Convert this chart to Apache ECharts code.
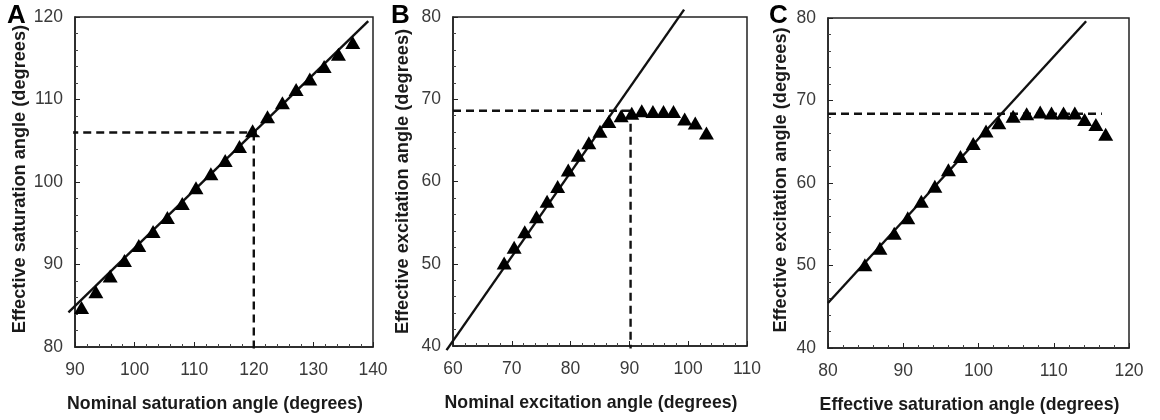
<!DOCTYPE html>
<html>
<head>
<meta charset="utf-8">
<script src="https://cdn.jsdelivr.net/npm/echarts@6/dist/echarts.min.js"></script>
<style>html,body{margin:0;padding:0;background:#fff}#c{width:1160px;height:420px}</style>
</head>
<body>
<div id="c"></div>
<script>
// ---- Panel A: nominal vs effective saturation angle ----
const panelA_x = [91.1, 93.5, 95.9, 98.3, 100.7, 103.1, 105.5, 108.0, 110.3, 112.8, 115.2, 117.6, 119.8, 122.3, 124.8, 127.1, 129.4, 131.8, 134.2, 136.6];
const panelA_y = [84.8, 86.7, 88.6, 90.5, 92.3, 94.0, 95.7, 97.4, 99.3, 101.0, 102.6, 104.3, 106.2, 107.9, 109.6, 111.2, 112.5, 114.0, 115.5, 116.9];
const fitA = [[88.9, 84.2], [139.2, 119.5]];
const dashA_h = [[89.2, 106], [121.0, 106]];
const dashA_v = [[120, 106], [120, 79.7]];
const ringsA = [[89.2, 106], [121.0, 106]];

// ---- Panel B: nominal vs effective excitation angle ----
const panelB_x = [68.7, 70.4, 72.2, 74.2, 76.0, 77.8, 79.6, 81.3, 83.1, 85.0, 86.5, 88.6, 90.4, 92.1, 94.0, 95.8, 97.5, 99.4, 101.2, 103.1];
const panelB_y = [50.1, 52.0, 53.9, 55.7, 57.6, 59.4, 61.4, 63.2, 64.7, 66.1, 67.3, 68.0, 68.3, 68.6, 68.5, 68.5, 68.5, 67.6, 67.1, 65.9];
const fitB = [[58.9, 39.5], [99.3, 80.9]];
const dashB_h = [[60, 68.6], [90.2, 68.6]];
const dashB_v = [[90.2, 68.6], [90.2, 39.7]];

// ---- Panel C: effective saturation vs effective excitation angle ----
const panelC_x = [84.9, 86.9, 88.8, 90.6, 92.4, 94.2, 96.0, 97.6, 99.3, 101.0, 102.7, 104.6, 106.4, 108.2, 109.7, 111.3, 112.8, 114.1, 115.6, 116.9];
const panelC_y = [50.1, 52.1, 53.9, 55.8, 57.8, 59.6, 61.6, 63.2, 64.8, 66.3, 67.3, 68.1, 68.4, 68.6, 68.5, 68.5, 68.5, 67.7, 67.1, 65.9];
const fitC = [[80, 45.45], [114.3, 79.6]];
const dashC_h = [[80, 68.4], [116.4, 68.4]];

// ---- axes ----
const xRanges = [[90, 140], [60, 110], [80, 120]];
const yRanges = [[80, 120], [40, 80], [40, 80]];
const xNames = ['Nominal saturation angle (degrees)', 'Nominal excitation angle (degrees)', 'Effective saturation angle (degrees)'];
const yNames = ['Effective saturation angle (degrees)', 'Effective excitation angle (degrees)', 'Effective excitation angle (degrees)'];
const panelLetters = ['A', 'B', 'C'];

const FONT = 'Liberation Sans, Arial, sans-serif';
const grids = [
  {left: 75, width: 298, top: 17, height: 330},
  {left: 453, width: 294, top: 17, height: 329},
  {left: 828, width: 301, top: 18, height: 330}
];
const yNameGaps = [46, 41, 38];
const yNamePad = [[0, 0, 0, 6], [0, 0, 0, 0], [0, 0, 0, 6]];

function zip(xs, ys) { return xs.map((x, i) => [x, ys[i]]); }

const xAxis = xRanges.map((r, i) => ({
  type: 'value', gridIndex: i, min: r[0], max: r[1], interval: 10,
  name: xNames[i], nameLocation: 'middle', nameGap: 48,
  nameTextStyle: {fontFamily: FONT, fontWeight: 'bold', fontSize: 17.7, color: '#1a1a1a', padding: [0, 18, 0, 0]},
  axisLine: {show: true, onZero: false, lineStyle: {color: '#222', width: 1.5}},
  axisTick: {show: true, inside: true, length: 5, lineStyle: {color: '#222'}},
  minorTick: {show: true, splitNumber: 5, length: 3, lineStyle: {color: '#444'}},
  axisLabel: {fontFamily: FONT, fontSize: 17.5, color: '#3a3a3a', margin: 14},
  splitLine: {show: false}
}));
const yAxis = yRanges.map((r, i) => ({
  type: 'value', gridIndex: i, min: r[0], max: r[1], interval: 10,
  name: yNames[i], nameLocation: 'middle', nameGap: yNameGaps[i],
  nameTextStyle: {fontFamily: FONT, fontWeight: 'bold', fontSize: 18.2, color: '#1a1a1a', padding: yNamePad[i]},
  axisLine: {show: true, onZero: false, lineStyle: {color: '#222', width: 1.5}},
  axisTick: {show: true, inside: true, length: 5, lineStyle: {color: '#222'}},
  minorTick: {show: true, splitNumber: 5, length: 3, lineStyle: {color: '#444'}},
  axisLabel: {fontFamily: FONT, fontSize: 17.5, color: '#3a3a3a', margin: 12},
  splitLine: {show: false}
}));

// straight segments drawn with a 'lines' series so they may run past the frame (clip: false)
function segSeries(pts, idx, dashed) {
  return {
    type: 'lines', coordinateSystem: 'cartesian2d', xAxisIndex: idx, yAxisIndex: idx,
    polyline: true, clip: false, silent: true, z: 2,
    data: [{coords: pts}],
    lineStyle: {color: '#111', width: 2.4, type: dashed ? [8, 5] : 'solid', opacity: 1, curveness: 0}
  };
}
function triSeries(data, idx) {
  return {
    type: 'scatter', xAxisIndex: idx, yAxisIndex: idx, data: data,
    symbol: 'triangle', symbolSize: [15, 13], z: 3,
    itemStyle: {color: '#000', opacity: 1}
  };
}

const series = [
  segSeries(fitA, 0, false), segSeries(dashA_h, 0, true), segSeries(dashA_v, 0, true),
  {type: 'scatter', xAxisIndex: 0, yAxisIndex: 0, data: ringsA, symbol: 'emptyCircle', symbolSize: 4, clip: false,
   itemStyle: {color: '#fff', borderColor: '#777', borderWidth: 1, opacity: 1}, z: 4},
  triSeries(zip(panelA_x, panelA_y), 0),
  segSeries(fitB, 1, false), segSeries(dashB_h, 1, true), segSeries(dashB_v, 1, true),
  triSeries(zip(panelB_x, panelB_y), 1),
  segSeries(fitC, 2, false), segSeries(dashC_h, 2, true),
  triSeries(zip(panelC_x, panelC_y), 2)
];

const letterPos = [[7, 3], [391, 3], [769, 3]];
const graphic = panelLetters.map((t, i) => ({
  type: 'text', left: letterPos[i][0], top: letterPos[i][1],
  style: {text: t, font: 'bold 26px ' + FONT, fill: '#000'}
}));

const chart = echarts.init(document.getElementById('c'), null, {renderer: 'canvas'});
chart.setOption({
  animation: false,
  backgroundColor: '#fff',
  grid: grids.map(g => Object.assign({show: true, borderColor: '#222', borderWidth: 1.5, backgroundColor: 'transparent'}, g)),
  xAxis: xAxis, yAxis: yAxis, series: series, graphic: graphic
});
</script>
</body>
</html>
